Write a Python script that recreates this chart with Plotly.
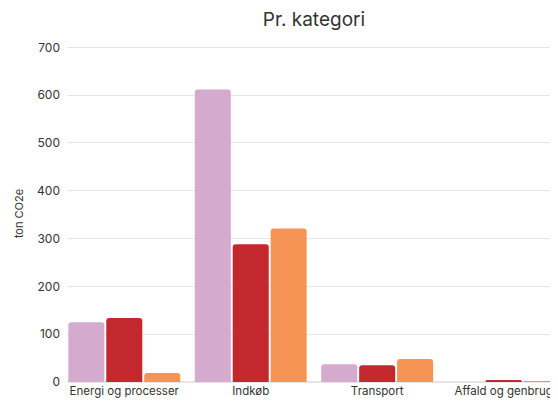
import plotly.graph_objects as go

# data
categories = ['Energi og processer', 'Indkøb', 'Transport', 'Affald og genbrug']
series_1 = [125, 612, 37, 0]
series_2 = [134, 288, 35, 3]
series_3 = [19, 321, 48, 1]
colors = ['#d4aacf', '#c4282f', '#f59455']

fig = go.Figure()

for vals, col, name in zip([series_1, series_2, series_3], colors, ['A', 'B', 'C']):
    fig.add_trace(go.Bar(x=categories, y=vals, name=name,
                         marker=dict(color=col, line=dict(width=0))))

# page body has an 8px margin, so the figure is 8px smaller on each side
fig.update_layout(
    width=550, height=396,
    font=dict(family='Inter', size=12, color='#333333'),
    title=dict(text='Pr. kategori', xref='paper', x=0.503, xanchor='center',
               yref='container', y=0.972, yanchor='middle',
               font=dict(size=19, color='#333333')),
    paper_bgcolor='white', plot_bgcolor='white',
    showlegend=False,
    barmode='group', bargap=0.1, bargroupgap=0.05, barcornerradius=3,
    margin=dict(l=59, r=0, t=37, b=22),
    xaxis=dict(range=[-0.453, 3.43], showgrid=False, ticks='', showline=False,
               tickfont=dict(size=11.5), automargin=False),
    yaxis=dict(range=[0, 705], tickvals=[0, 100, 200, 300, 400, 500, 600, 700],
               gridcolor='#e6e6e6', zeroline=True,
               zerolinecolor='#e6e6e6', tickfont=dict(size=12), automargin=False,
               ticklabelstandoff=6,
               title=dict(text='ton CO2e', font=dict(size=11), standoff=11)),
)

fig.write_html("out.html")
